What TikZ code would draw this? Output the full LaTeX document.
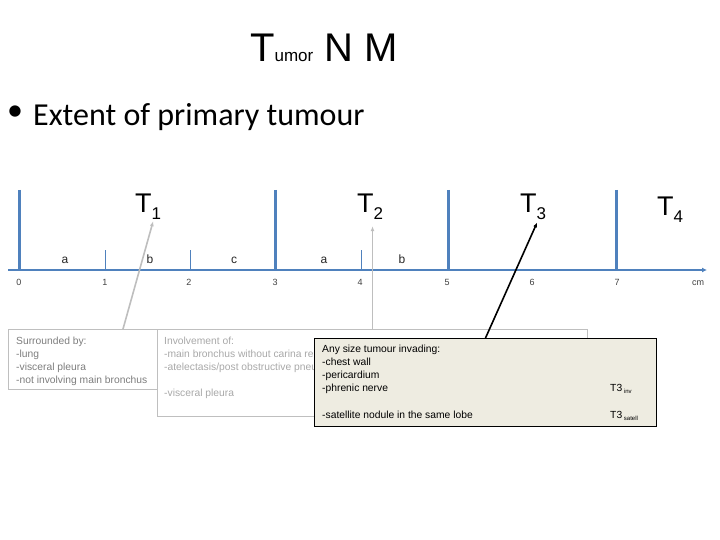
\documentclass[tikz,border=0pt]{standalone}
\usepackage{fontspec}
\setmainfont{Liberation Sans}
\newfontfamily\slidefont{Carlito}
\usetikzlibrary{arrows.meta}

\definecolor{axisblue}{RGB}{79,129,189}
\definecolor{boxgray}{RGB}{191,191,191}
\definecolor{surtext}{RGB}{125,125,125}
\definecolor{invtext}{RGB}{168,168,168}
\definecolor{anyfill}{RGB}{238,236,225}
\definecolor{ticktext}{RGB}{64,64,64}
\definecolor{pointgray}{RGB}{190,190,190}

% stage label T with lowered index
\newcommand{\tstage}[1]{T\raisebox{-7pt}{\fontsize{17}{20}\selectfont #1}}
\newcommand{\tsub}[1]{T3\,\raisebox{-2pt}{\fontsize{6}{7}\selectfont #1}}

\begin{document}
\begin{tikzpicture}[x=1pt, y=-1pt,
  bigtick/.style={axisblue, line width=3pt},
  smalltick/.style={axisblue, line width=1pt},
  numlab/.style={anchor=base, inner sep=0pt, text=ticktext, font=\fontsize{9}{10}\selectfont},
  sublab/.style={anchor=base, inner sep=0pt, text=black!85, font=\fontsize{12}{14}\selectfont},
  stagelab/.style={anchor=base west, inner sep=0pt, font=\fontsize{27}{30}\selectfont},
  infobox/.style={draw=boxgray, line width=1pt, anchor=north west, inner sep=0pt},
  boxline/.style={anchor=base west, inner sep=0pt, font=\fontsize{10.3}{12}\selectfont},
  pointer/.style={line width=1.6pt, -{Latex[length=5pt,width=4pt]}}]
  \useasboundingbox (0,0) rectangle (720,540);

  % title and bullet
  \node[anchor=base west, inner sep=0pt] (title) at (250,62)
    {\fontsize{40}{44}\selectfont T{\fontsize{17}{20}\selectfont umor} N M};
  \node[inner sep=0pt] (dot) at (15,113) {\slidefont\fontsize{32}{36}\selectfont •};
  \node[anchor=base west, inner sep=0pt] (extent) at (33,126)
    {\slidefont\fontsize{32}{36}\selectfont Extent of primary tumour};

  % size scale in cm
  \draw[axisblue, line width=2.4pt, -{Latex[length=5pt,width=5pt]}] (8,270) -- (707,270);
  \foreach \x in {19.5,275,448,616}
    \draw[bigtick] (\x,190) -- (\x,270);
  \foreach \x in {105,190,361}
    \draw[smalltick] (\x,250) -- (\x,270);
  \foreach \n/\x in {0/19,1/105,2/189,3/275,4/360,5/447,6/532,7/617}
    \node[numlab] (n\n) at (\x,285) {\n};
  \node[numlab] (unit) at (698,285) {cm};
  \foreach \l/\x [count=\i] in {a/65,b/150,c/234,a/324,b/402}
    \node[sublab] (sub\i) at (\x,263) {\l};
  \foreach \k/\x/\y in {1/135/212, 2/357/213, 3/520/213, 4/657/215}
    \node[stagelab] (t\k) at (\x,\y) {\tstage{\k}};

  % T1 box
  \node[infobox, minimum width=149pt, minimum height=60pt] (sur) at (8,329) {};
  \foreach \y/\txt [count=\i] in {344.5/Surrounded by:, 357.5/-lung,
      370.5/-visceral pleura, 383.5/-not involving main bronchus}
    \node[boxline, text=surtext] (sur\i) at (16,\y) {\txt};

  % T2 box
  \node[infobox, minimum width=430pt, minimum height=87pt] (inv) at (157,329) {};
  \foreach \y/\txt [count=\i] in {344.5/Involvement of:,
      357.5/-main bronchus without carina re,
      370.5/{-atelectasis/post obstructive pneu}, 396.5/-visceral pleura}
    \node[boxline, text=invtext] (inv\i) at (164,\y) {\txt};

  % T3 box
  \node[infobox, draw=black, fill=anyfill, minimum width=342pt, minimum height=88pt] (any) at (314,338) {};
  \foreach \y/\txt [count=\i] in {352.5/Any size tumour invading:, 365.5/-chest wall,
      378/-pericardium, 391/-phrenic nerve, 418/-satellite nodule in the same lobe}
    \node[boxline] (any\i) at (322,\y) {\txt};
  \node[boxline] (tinv) at (610,391) {\tsub{inv}};
  \node[boxline] (tsat) at (610,418) {\tsub{satell}};

  % pointers to the stages
  \draw[pointer, pointgray] ([xshift=40pt]sur.north) -- ([shift={(5,2)}]t1.south);
  \draw[pointer, pointgray] (inv.north) -- ([yshift=-6pt]inv.north |- t2.south);
  \draw[pointer, black] (any.north) -- ([shift={(4,2)}]t3.south);
\end{tikzpicture}
\end{document}
